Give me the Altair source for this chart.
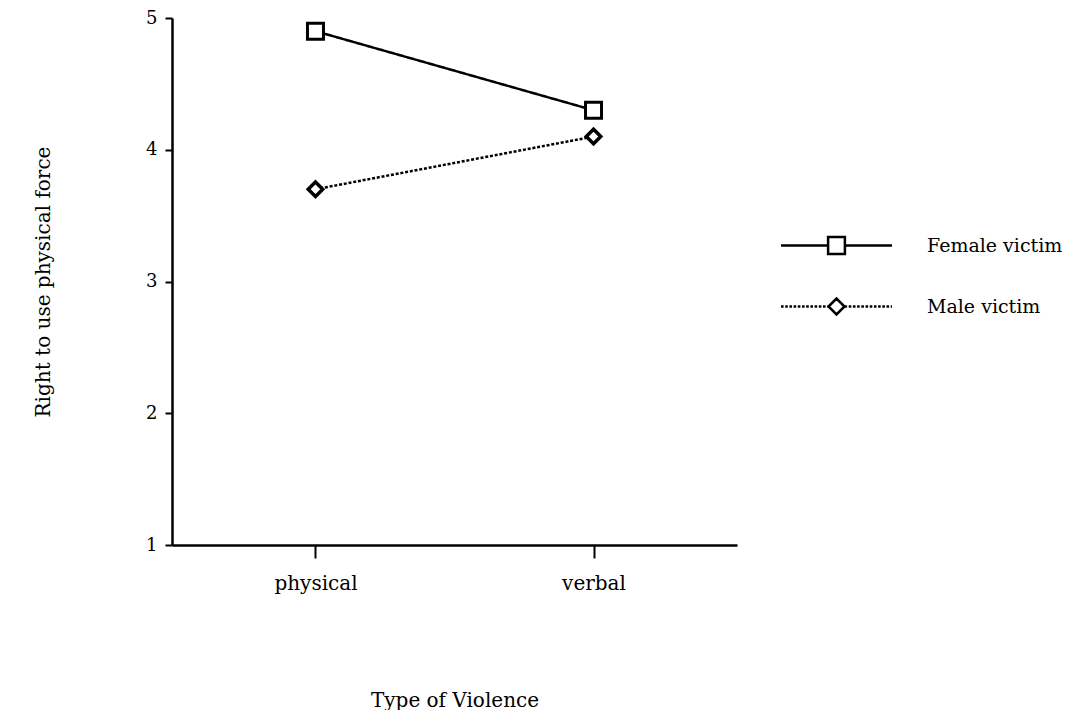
import altair as alt
import pandas as pd

# ---- data ----
series = ["Female victim", "Male victim"]
violence_types = ["physical", "verbal"]
female_values = [4.9, 4.3]
male_values = [3.7, 4.1]
y_ticks = [1, 2, 3, 4, 5]

rows = []
for t, v in zip(violence_types, female_values):
    rows.append({"type": t, "value": v, "series": series[0]})
for t, v in zip(violence_types, male_values):
    rows.append({"type": t, "value": v, "series": series[1]})
df = pd.DataFrame(rows)

FONT = "DejaVu Serif"

# ---- legend symbols: line + marker drawn as custom SVG paths ----
half = 2.775   # half length of legend line (units of sqrt(size)/2)
sq = 0.42
dm = 0.40
female_path = (f"M{-half},0L{-sq},0M{sq},0L{half},0"
               f"M{-sq},{-sq}L{sq},{-sq}L{sq},{sq}L{-sq},{sq}Z")


def dotted(a, b, dash=0.13, gap=0.08):
    x = a
    out = []
    while x < b - 1e-9:
        x2 = min(x + dash, b)
        out.append(f"M{x:.3f},0L{x2:.3f},0")
        x = x2 + gap
    return "".join(out)


male_path = (dotted(-half, -dm) + dotted(dm, half) +
             f"M{-dm},0L0,{-dm}L{dm},0L0,{dm}Z")

x_enc = alt.X(
    "type:N",
    scale=alt.Scale(type="point", domain=violence_types, padding=0.516),
    axis=alt.Axis(title="Type of Violence", labelAngle=0, tickSize=13,
                  labelPadding=15, titlePadding=97, domainWidth=2.5,
                  tickWidth=2, labelFontSize=20),
)
y_enc = alt.Y(
    "value:Q",
    scale=alt.Scale(domain=[1, 5], nice=False, zero=False),
    axis=alt.Axis(title="Right to use physical force", values=y_ticks,
                  format="d", tickSize=7, labelPadding=8, titlePadding=92,
                  grid=False, domainWidth=2.5, tickWidth=2, labelFontSize=18),
)

lines = alt.Chart(df).mark_line(color="black", strokeWidth=2.5).encode(
    x=x_enc,
    y=y_enc,
    detail="series:N",
    strokeDash=alt.StrokeDash(
        "series:N",
        scale=alt.Scale(domain=series, range=[[1, 0], [3, 1.8]]),
        legend=None,
    ),
)

points = alt.Chart(df).mark_point(
    filled=True, fill="white", stroke="black", opacity=1
).encode(
    x=x_enc,
    y=y_enc,
    shape=alt.Shape("series:N",
                    scale=alt.Scale(domain=series, range=["square", "diamond"]),
                    legend=None),
    size=alt.Size("series:N",
                  scale=alt.Scale(domain=series, range=[256, 210]),
                  legend=None),
    strokeWidth=alt.StrokeWidth("series:N",
                                scale=alt.Scale(domain=series, range=[3, 3.5]),
                                legend=None),
)

legend_layer = alt.Chart(df).transform_filter("false").mark_point(
    filled=False, color="black", strokeWidth=2.5, opacity=1
).encode(
    shape=alt.Shape(
        "series:N",
        scale=alt.Scale(domain=series, range=[female_path, male_path]),
        legend=alt.Legend(
            title=None, orient="none", legendX=607, legendY=206,
            symbolSize=1600, symbolOffset=36, labelOffset=69,
            rowPadding=26, labelFont=FONT, labelFontSize=19,
            labelColor="black", padding=0,
            symbolStrokeColor="black", symbolStrokeWidth=2.5,
            symbolFillColor="white", symbolOpacity=1,
        ),
    ),
)

chart = alt.layer(lines, points, legend_layer).resolve_scale(
    shape="independent"
).properties(
    width=565,
    height=527,
    autosize=alt.AutoSizeParams(type="none"),
    padding={"left": 164, "top": 10, "right": 334, "bottom": 165},
).configure_view(stroke=None).configure_axis(
    labelFont=FONT, labelColor="black",
    titleFont=FONT, titleFontSize=20, titleFontWeight="normal",
    titleColor="black", domainColor="black", tickColor="black",
)

chart.save("out.html", embed_options={"renderer": "svg", "actions": False})
